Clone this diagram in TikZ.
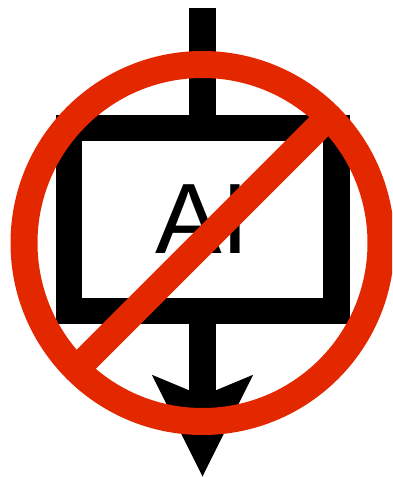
\documentclass[tikz,border=0pt]{standalone}
\usepackage{fontspec}
\setmainfont{Liberation Sans}
\usetikzlibrary{arrows.meta}
\definecolor{signred}{HTML}{E32800}
\begin{document}
\begin{tikzpicture}[x=1pt,y=1pt]
    \useasboundingbox (0,0) rectangle (392,477);
    \clip (0,0) rectangle (392,477);
    \node[draw,line width=26.5pt,outer sep=0pt,inner sep=0pt,minimum width=267.5pt,minimum height=183pt,font=\fontsize{100}{100}\selectfont] (box) at (202.5,257.5) {AI};
    \coordinate (top) at (202.5,469);
    \coordinate (tip) at (202.5,0);
    \draw[line width=27pt] (top)--(box.north);
    \draw[-{Stealth[length=100pt,width=97pt,inset=19pt]},line width=27pt] (box.south)--(tip);
    \node[draw=signred,line width=27pt,circle,outer sep=0pt,inner sep=0pt,minimum size=357pt] (ring) at (202.5,234) {};
    \draw[signred,line width=27pt] (ring.45)--(ring.225);
  \end{tikzpicture}
\end{document}
